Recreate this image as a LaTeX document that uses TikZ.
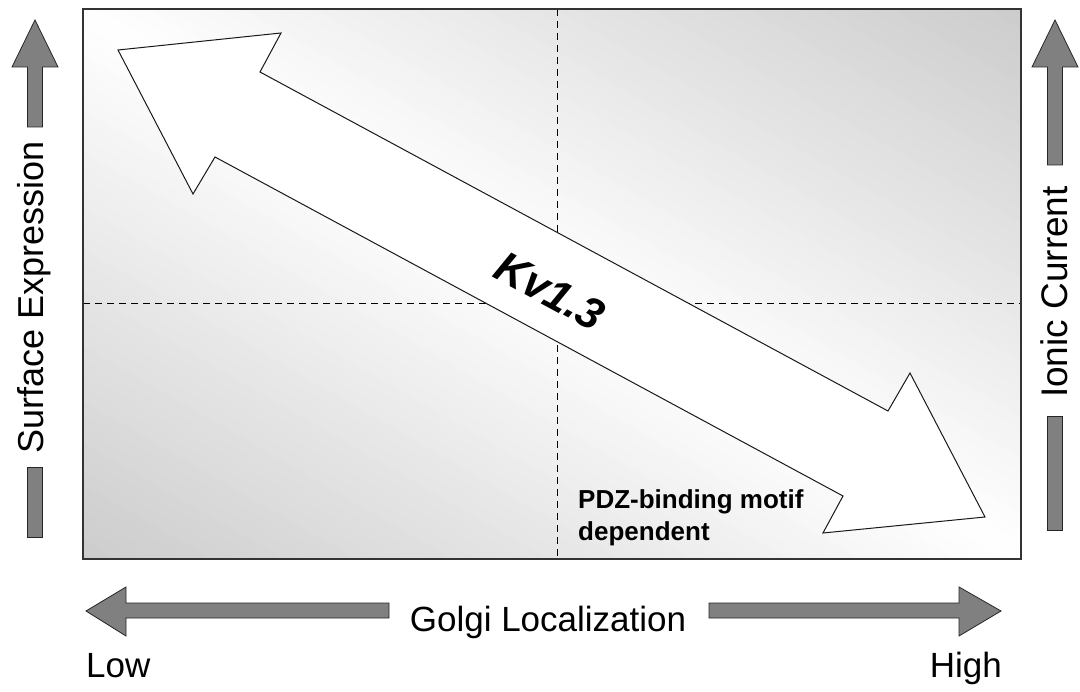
\documentclass[tikz,border=0pt]{standalone}
\usepackage{fontspec}
\setmainfont{Liberation Sans}
\begin{document}
\begin{tikzpicture}[x=1pt,y=-1pt,
  grayarrow/.style={fill=arrowgray, draw=black!85, line width=0.8pt, line join=miter},
  lbl/.style={font=\fontsize{35}{40}\selectfont, inner sep=0pt},
  dashline/.style={draw=black, line width=0.8pt, dash pattern=on 7pt off 5pt},
  bigarrow/.style={fill=white, draw=black!90, line width=1pt, line join=miter}]
\definecolor{arrowgray}{HTML}{808080}
\useasboundingbox (0,0) rectangle (1080,692);
\fill[white] (0,0) rectangle (1080,692);

% shaded panel: linear gradient, light along the TL-BR diagonal, darker toward TR and BL
\begin{scope}
  \clip (83,9) rectangle (1021,559);
  \foreach \i in {-40,...,39} {
    \pgfmathsetmacro\ta{\i*12}
    \pgfmathsetmacro\tb{(\i+1)*12+0.6}
    \pgfmathsetmacro\shd{20*min(1,abs(\i+0.5)/39.5)}
    \fill[black!\shd]
      ({552+0.5*\ta-779.4},{284-0.866*\ta-450}) --
      ({552+0.5*\ta+779.4},{284-0.866*\ta+450}) --
      ({552+0.5*\tb+779.4},{284-0.866*\tb+450}) --
      ({552+0.5*\tb-779.4},{284-0.866*\tb-450}) -- cycle;
  }
\end{scope}

% dashed quadrant lines
\coordinate (vt) at (557,9);
\coordinate (vb) at (557,559);
\coordinate (hl) at (83,303);
\coordinate (hr) at (1021,303);
\draw[dashline] (vt) -- (vb);
\draw[dashline] (hl) -- (hr);

% panel frame
\draw[draw=black!80, line width=1.6pt] (83,9) rectangle (1021,559);

% big double arrow
\draw[bigarrow] (118,50) -- (281,33) -- (260,72) -- (888,411) -- (910,373)
  -- (985,517) -- (823,533) -- (843,496) -- (215,157) -- (193,194) -- cycle;

\node[font=\fontsize{44}{50}\selectfont\bfseries\itshape, rotate=-28.4, inner sep=0pt]
  (kv) at (550,291) {Kv1.3};

\node[font=\fontsize{26}{31}\selectfont\bfseries, anchor=base west, inner sep=0pt]
  (pdz1) at (578,509) {PDZ-binding motif};
\node[font=\fontsize{26}{31}\selectfont\bfseries, anchor=base west, inner sep=0pt]
  (pdz2) at (578,540) {dependent};

% left vertical arrow
\draw[grayarrow] (35,20) -- (58,67) -- (42.5,67) -- (42.5,127) -- (27.5,127)
  -- (27.5,67) -- (12,67) -- cycle;
\draw[grayarrow] (27.5,467) rectangle (42.5,537);
\node[lbl, font=\fontsize{36}{40}\selectfont, rotate=90, anchor=base] (se) at (43,297) {Surface Expression};

% right vertical arrow
\draw[grayarrow] (1055,20) -- (1078,67) -- (1062.5,67) -- (1062.5,165) -- (1047.5,165)
  -- (1047.5,67) -- (1032,67) -- cycle;
\draw[grayarrow] (1047.5,416) rectangle (1062.5,530);
\node[lbl, font=\fontsize{37}{40}\selectfont, rotate=90, anchor=base] (ic) at (1067,292) {Ionic Current};

% bottom horizontal arrows
\draw[grayarrow] (86,611) -- (126,587) -- (126,603) -- (389,603) -- (389,618)
  -- (126,618) -- (126,636) -- cycle;
\draw[grayarrow] (1001,611) -- (959,587) -- (959,603) -- (709,603) -- (709,618)
  -- (959,618) -- (959,636) -- cycle;
\node[lbl, anchor=base] (golgi) at (548,631) {Golgi Localization};
\node[lbl, anchor=base west] (low) at (86,677) {Low};
\node[lbl, anchor=base east] (high) at (1002,677) {High};
\end{tikzpicture}
\end{document}
